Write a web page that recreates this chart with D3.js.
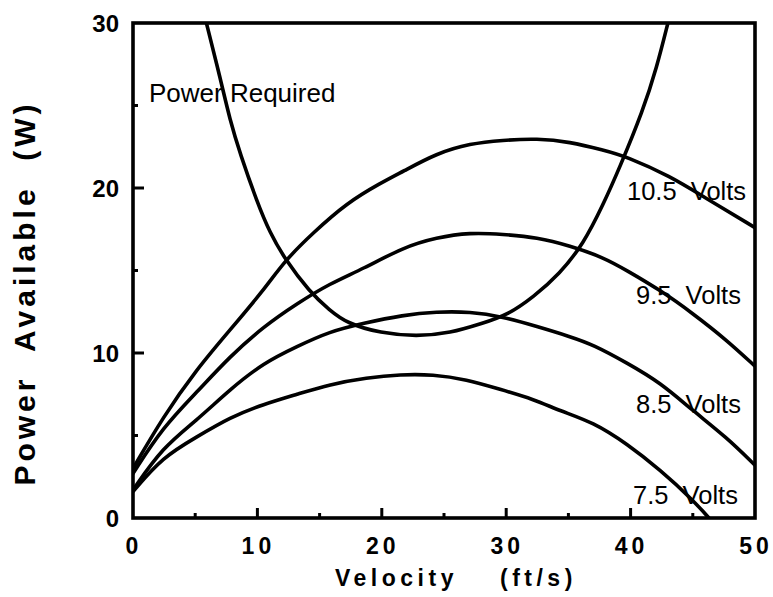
<!DOCTYPE html>
<html>
<head>
<meta charset="utf-8">
<script src="https://cdn.jsdelivr.net/npm/d3@7"></script>
<style>
  body { margin: 0; background: #fff; }
  svg { display: block; font-family: "Liberation Sans", Arial, Helvetica, sans-serif; }
  .frame, .curve { fill: none; stroke: #000; stroke-width: 3.6; stroke-linejoin: round; stroke-linecap: round; }
  .tick-mark { stroke: #000; stroke-width: 3; }
</style>
</head>
<body>
<div id="chart"></div>
<script>
// velocity (ft/s) and power (W)
var v75 = [0, 2.4, 5.1, 7.8, 10.5, 13.2, 15.8, 18.8, 21.5, 24.1, 26.8, 29.5, 32.2, 34.3, 37.0, 39.7, 42.4, 45.0, 46.3];
var p75 = [1.6, 3.7, 4.9, 6.1, 6.9, 7.5, 8.1, 8.5, 8.7, 8.7, 8.4, 7.8, 7.2, 6.5, 5.8, 4.5, 2.9, 1.1, 0];

var v85 = [0, 2.4, 5.1, 7.8, 10.5, 13.2, 15.8, 18.5, 21.7, 24.4, 27.1, 29.7, 32.5, 35.1, 37.0, 39.7, 42.4, 45.0, 47.7, 50];
var p85 = [1.7, 4.3, 5.9, 7.8, 9.4, 10.4, 11.3, 11.8, 12.3, 12.5, 12.5, 12.2, 11.6, 11.0, 10.5, 9.4, 8.2, 6.5, 4.9, 3.2];

var v95 = [0, 2.4, 5.1, 7.8, 10.5, 13.2, 15.8, 18.5, 21.7, 24.4, 27.1, 29.7, 32.5, 35.1, 37.8, 39.7, 42.4, 45.0, 47.7, 50];
var p95 = [2.7, 5.5, 7.6, 9.8, 11.6, 13.0, 14.2, 15.1, 16.4, 17.0, 17.3, 17.2, 17.0, 16.5, 15.8, 15.0, 13.8, 12.4, 10.8, 9.2];

var v105 = [0, 2.4, 5.1, 7.8, 10.5, 12.2, 14.5, 17.2, 19.9, 21.7, 24.4, 27.1, 29.7, 32.5, 35.1, 37.8, 39.7, 43.2, 45.8, 50];
var p105 = [3.0, 6.1, 9.0, 11.4, 13.8, 15.6, 17.3, 19.1, 20.3, 21.0, 22.1, 22.7, 22.9, 23.0, 22.8, 22.3, 21.9, 20.7, 19.5, 17.6];

var vReq = [5.9, 7.0, 7.8, 8.6, 10.0, 11.0, 12.2, 14.2, 15.8, 17.2, 19.9, 22.8, 25.5, 28.1, 30.1, 32.2, 34.3, 36.2, 37.8, 39.1, 41.0, 42.1, 43.0];
var pReq = [30, 26.7, 24.1, 22.1, 19.1, 17.3, 15.7, 13.7, 12.6, 11.8, 11.2, 11.0, 11.2, 11.8, 12.3, 13.4, 14.8, 16.6, 19.0, 21.2, 24.7, 27.3, 30];

var xTicks = [0, 10, 20, 30, 40, 50];
var xMinor = [5, 15, 25, 35, 45];
var yTicks = [0, 10, 20, 30];
var yMinor = [5, 15, 25];

var curveLabels = ['Power Required', '10.5  Volts', '9.5  Volts', '8.5  Volts', '7.5  Volts'];

var width = 773, height = 597;
var plot = { left: 133, right: 755, top: 23, bottom: 518 };

//--- CREATE SVG
var svg = d3.select('#chart')
  .append('svg')
  .attr('width', width)
  .attr('height', height);

//--- SCALES
var scaleX = d3.scaleLinear().domain([0, 50]).range([plot.left, plot.right]);
var scaleY = d3.scaleLinear().domain([0, 30]).range([plot.bottom, plot.top]);

svg.append('clipPath')
  .attr('id', 'clip')
  .append('rect')
  .attr('x', plot.left)
  .attr('y', plot.top)
  .attr('width', plot.right - plot.left)
  .attr('height', plot.bottom - plot.top);

//--- LINE FUNCTION
var lineFunc = d3.line()
  .x(function(d) { return scaleX(d[0]); })
  .y(function(d) { return scaleY(d[1]); })
  .curve(d3.curveBasis);

function pairs(xs, ys) {
  return xs.map(function(x, i) { return [x, ys[i]]; });
}

var series = [pairs(vReq, pReq), pairs(v105, p105), pairs(v95, p95), pairs(v85, p85), pairs(v75, p75)];

svg.append('g')
  .attr('clip-path', 'url(#clip)')
  .selectAll('path')
  .data(series)
  .enter()
  .append('path')
  .attr('class', 'curve')
  .attr('d', lineFunc);

//--- FRAME
svg.append('rect')
  .attr('class', 'frame')
  .attr('x', plot.left)
  .attr('y', plot.top)
  .attr('width', plot.right - plot.left)
  .attr('height', plot.bottom - plot.top)
  .style('stroke-linejoin', 'miter');

//--- TICKS (pointing inwards)
var tickG = svg.append('g');

tickG.selectAll('.xt')
  .data(xTicks.slice(1, -1).map(function(d) { return [d, 10]; }).concat(xMinor.map(function(d) { return [d, 5]; })))
  .enter()
  .append('line')
  .attr('class', 'tick-mark')
  .attr('x1', function(d) { return scaleX(d[0]); })
  .attr('x2', function(d) { return scaleX(d[0]); })
  .attr('y1', plot.bottom)
  .attr('y2', function(d) { return plot.bottom - d[1]; });

tickG.selectAll('.yt')
  .data(yTicks.slice(1, -1).map(function(d) { return [d, 11]; }).concat(yMinor.map(function(d) { return [d, 5]; })))
  .enter()
  .append('line')
  .attr('class', 'tick-mark')
  .attr('y1', function(d) { return scaleY(d[0]); })
  .attr('y2', function(d) { return scaleY(d[0]); })
  .attr('x1', plot.left)
  .attr('x2', function(d) { return plot.left + d[1]; });

//--- TICK LABELS
svg.append('g')
  .selectAll('text')
  .data(xTicks)
  .enter()
  .append('text')
  .attr('x', function(d) { return scaleX(d) + 1; })
  .attr('y', 554)
  .attr('text-anchor', 'middle')
  .style('font-size', '23px')
  .style('font-weight', 'bold')
  .style('letter-spacing', '4px')
  .text(function(d) { return d; });

svg.append('g')
  .selectAll('text')
  .data(yTicks)
  .enter()
  .append('text')
  .attr('x', 119)
  .attr('y', function(d) { return scaleY(d) + 9; })
  .attr('text-anchor', 'end')
  .style('font-size', '24px')
  .style('font-weight', 'bold')
  .text(function(d) { return d; });

//--- CURVE LABELS
var labelPos = [[149, 102], [627, 200], [636, 304], [636, 413], [633, 504]];
var labelSize = [26, 25.5, 25.5, 25.5, 25.5];

svg.append('g')
  .selectAll('text')
  .data(curveLabels)
  .enter()
  .append('text')
  .attr('x', function(d, i) { return labelPos[i][0]; })
  .attr('y', function(d, i) { return labelPos[i][1]; })
  .style('font-size', function(d, i) { return labelSize[i] + 'px'; })
  .style('white-space', 'pre')
  .attr('xml:space', 'preserve')
  .text(function(d) { return d; });

//--- AXIS TITLES
svg.append('text')
  .attr('x', 335)
  .attr('y', 586)
  .style('font-size', '23px')
  .style('font-weight', 'bold')
  .style('letter-spacing', '4.5px')
  .text('Velocity');

svg.append('text')
  .attr('x', 500)
  .attr('y', 586)
  .style('font-size', '23px')
  .style('font-weight', 'bold')
  .style('letter-spacing', '4.5px')
  .text('(ft/s)');

svg.append('text')
  .attr('transform', 'translate(35,' + 293 + ') rotate(-90)')
  .attr('text-anchor', 'middle')
  .style('font-size', '30px')
  .style('font-weight', 'bold')
  .style('letter-spacing', '4px')
  .style('white-space', 'pre')
  .attr('xml:space', 'preserve')
  .text('Power  Available  (W)');
</script>
</body>
</html>
